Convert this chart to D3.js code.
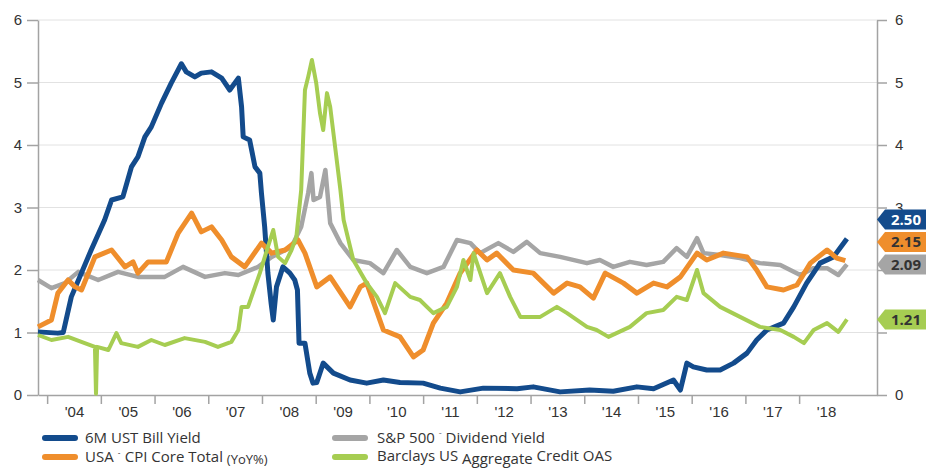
<!DOCTYPE html>
<html lang="en">
<head>
<meta charset="utf-8">
<title>Yields chart</title>
<script src="https://d3js.org/d3.v7.min.js"></script>
<style type="text/css">
body { margin: 0; background: #fff; }
svg  { display: block; font-family: "Open Sans", "Noto Sans", sans-serif; }
.axis path, .axis line { stroke: #a3a3a3; stroke-width: 1.5; }
.axis text { fill: #333; font-size: 15px; }
.grid line { stroke: #e2e2e2; stroke-width: 1; }
.legend text { fill: #333; font-size: 15px; }
</style>
</head>
<body>
<script type="text/javascript">

// series: [decimal year, value]
var billYield = [
  [2003.83,1.01],[2004.2,0.99],[2004.3,1.0],[2004.45,1.57],[2004.82,2.32],[2005.07,2.8],[2005.2,3.12],
  [2005.41,3.17],[2005.57,3.65],[2005.69,3.81],[2005.82,4.13],[2005.94,4.29],[2006.13,4.67],[2006.31,4.99],
  [2006.5,5.3],[2006.59,5.17],[2006.75,5.09],[2006.87,5.15],[2007.06,5.17],[2007.25,5.07],[2007.4,4.88],
  [2007.56,5.07],[2007.62,4.61],[2007.65,4.13],[2007.77,4.08],[2007.87,3.65],[2007.96,3.55],[2007.99,3.23],
  [2008.05,2.69],[2008.11,1.95],[2008.17,1.47],[2008.21,1.2],[2008.27,1.73],[2008.39,2.05],[2008.52,1.95],
  [2008.61,1.84],[2008.66,1.68],[2008.69,0.83],[2008.8,0.83],[2008.89,0.35],[2008.95,0.19],[2009.02,0.2],
  [2009.14,0.51],[2009.33,0.35],[2009.64,0.24],[2009.95,0.19],[2010.26,0.24],[2010.57,0.2],[2011.0,0.19],
  [2011.32,0.11],[2011.69,0.05],[2012.12,0.11],[2012.75,0.1],[2013.05,0.13],[2013.55,0.05],[2014.1,0.08],
  [2014.54,0.06],[2014.98,0.13],[2015.29,0.1],[2015.66,0.24],[2015.79,0.08],[2015.91,0.51],[2016.03,0.45],
  [2016.28,0.4],[2016.53,0.4],[2016.78,0.51],[2017.03,0.67],[2017.21,0.88],[2017.4,1.04],[2017.71,1.15],
  [2017.9,1.41],[2018.14,1.79],[2018.39,2.11],[2018.64,2.21],[2018.89,2.50]
];

var cpiCore = [
  [2003.83,1.09],[2004.08,1.2],[2004.2,1.63],[2004.39,1.84],[2004.52,1.73],[2004.64,1.68],[2004.89,2.21],
  [2005.2,2.32],[2005.45,2.05],[2005.6,2.13],[2005.69,1.95],[2005.88,2.13],[2006.22,2.13],[2006.44,2.59],
  [2006.69,2.91],[2006.87,2.61],[2007.06,2.69],[2007.25,2.48],[2007.43,2.21],[2007.68,2.05],[2007.99,2.43],
  [2008.18,2.27],[2008.43,2.32],[2008.67,2.48],[2008.8,2.27],[2009.02,1.73],[2009.27,1.89],[2009.64,1.41],
  [2009.83,1.73],[2009.95,1.79],[2010.26,1.04],[2010.57,0.93],[2010.82,0.61],[2011.0,0.72],[2011.19,1.15],
  [2011.44,1.47],[2011.69,1.95],[2012.0,2.32],[2012.19,2.16],[2012.37,2.27],[2012.68,2.0],[2013.05,1.95],
  [2013.43,1.63],[2013.68,1.79],[2013.92,1.73],[2014.17,1.55],[2014.39,1.95],[2014.73,1.79],[2014.98,1.63],
  [2015.29,1.79],[2015.54,1.73],[2015.79,1.89],[2016.1,2.27],[2016.28,2.16],[2016.59,2.27],[2017.03,2.21],
  [2017.21,2.0],[2017.4,1.73],[2017.71,1.68],[2017.96,1.76],[2018.21,2.11],[2018.52,2.32],[2018.7,2.19],
  [2018.86,2.15]
];

var dividendYield = [
  [2003.83,1.84],[2004.08,1.71],[2004.33,1.79],[2004.58,1.97],[2004.95,1.84],[2005.32,1.97],[2005.69,1.89],
  [2006.19,1.89],[2006.53,2.05],[2006.94,1.89],[2007.31,1.95],[2007.56,1.92],[2007.93,2.05],[2008.18,2.21],
  [2008.55,2.37],[2008.73,2.69],[2008.86,3.23],[2008.92,3.55],[2008.96,3.12],[2009.08,3.17],[2009.18,3.6],
  [2009.27,2.75],[2009.46,2.43],[2009.7,2.16],[2010.01,2.11],[2010.26,1.95],[2010.51,2.32],[2010.76,2.05],
  [2011.07,1.95],[2011.38,2.05],[2011.63,2.48],[2011.88,2.43],[2012.06,2.27],[2012.4,2.43],[2012.68,2.29],
  [2012.93,2.45],[2013.18,2.27],[2013.55,2.21],[2014.05,2.11],[2014.29,2.16],[2014.54,2.05],[2014.85,2.13],
  [2015.16,2.08],[2015.47,2.13],[2015.72,2.35],[2015.91,2.21],[2016.1,2.51],[2016.22,2.27],[2016.53,2.24],
  [2016.9,2.19],[2017.27,2.11],[2017.65,2.08],[2018.02,1.92],[2018.27,2.03],[2018.52,2.03],[2018.73,1.92],
  [2018.89,2.09]
];

var creditOAS = [
  [2003.83,0.96],[2004.08,0.88],[2004.39,0.93],[2004.7,0.83],[2004.89,0.77],[2004.91,0.02],[2004.93,0.77],
  [2005.14,0.72],[2005.29,0.99],[2005.38,0.83],[2005.69,0.77],[2005.94,0.88],[2006.19,0.8],[2006.56,0.91],
  [2006.94,0.85],[2007.18,0.77],[2007.43,0.85],[2007.56,1.04],[2007.62,1.41],[2007.74,1.41],[2007.87,1.73],
  [2007.96,1.95],[2008.11,2.37],[2008.21,2.64],[2008.3,2.21],[2008.43,2.11],[2008.55,2.32],[2008.64,2.53],
  [2008.73,3.28],[2008.8,4.88],[2008.86,5.09],[2008.93,5.36],[2009.01,4.99],[2009.08,4.51],[2009.14,4.24],
  [2009.21,4.83],[2009.27,4.61],[2009.46,3.28],[2009.52,2.8],[2009.61,2.48],[2009.7,2.16],[2009.95,1.79],
  [2010.14,1.57],[2010.29,1.31],[2010.48,1.79],[2010.76,1.57],[2010.94,1.52],[2011.19,1.31],[2011.44,1.41],
  [2011.63,1.73],[2011.75,2.16],[2011.88,1.84],[2011.94,2.27],[2012.19,1.63],[2012.43,1.95],[2012.62,1.57],
  [2012.81,1.25],[2013.18,1.25],[2013.49,1.41],[2013.68,1.31],[2014.05,1.09],[2014.23,1.04],[2014.45,0.93],
  [2014.85,1.09],[2015.16,1.31],[2015.47,1.36],[2015.72,1.57],[2015.91,1.52],[2016.1,2.0],[2016.22,1.63],
  [2016.53,1.41],[2016.9,1.25],[2017.27,1.09],[2017.65,1.04],[2017.9,0.93],[2018.09,0.83],[2018.27,1.04],
  [2018.52,1.15],[2018.73,1.01],[2018.89,1.21]
];

var yearTicks  = [2004,2005,2006,2007,2008,2009,2010,2011,2012,2013,2014,2015,2016,2017,2018];
var yearLabels = ["'04","'05","'06","'07","'08","'09","'10","'11","'12","'13","'14","'15","'16","'17","'18"];
var valueTicks = [0,1,2,3,4,5,6];

var series = [
  { name: "dividend", data: dividendYield, color: "#a5a5a5", width: 4.5 },
  { name: "bill",     data: billYield,     color: "#134b8c", width: 5 },
  { name: "cpi",      data: cpiCore,       color: "#ef8e2c", width: 5 },
  { name: "oas",      data: creditOAS,     color: "#a6cd52", width: 4 }
];

var W = 926, H = 469;
var plotL = 38, plotR = 877, plotT = 20, plotB = 395;

var svg = d3.select("body").append("svg")
    .attr("width", W)
    .attr("height", H);

var x = d3.scaleLinear().domain([2003.83, 2019.45]).range([plotL, plotR]);
var y = d3.scaleLinear().domain([0, 6]).range([plotB, plotT]);

// gridlines
svg.append("g").attr("class", "grid")
  .selectAll("line")
  .data(valueTicks.slice(1))
  .enter().append("line")
  .attr("x1", plotL).attr("x2", plotR)
  .attr("y1", function(d) { return y(d); })
  .attr("y2", function(d) { return y(d); });

// end value tags, stacked upward so they don't overlap
var tags = series.map(function(s) {
  var last = s.data[s.data.length - 1];
  return { value: last[1], color: s.color, textColor: s.name == "bill" ? "#fff" : "#333" };
}).sort(function(a, b) { return a.value - b.value; });

var prev = Infinity;
tags.forEach(function(t) {
  t.cy = Math.min(y(t.value), prev - 22.5);
  prev = t.cy;
});

// right-hand labels hidden where a tag sits on top of them
var coveredTick = function(v) {
  return tags.some(function(t) {
    var dy = y(v) - t.cy;
    return dy > -11 && dy < 15;
  });
};

// axes
svg.append("g").attr("class", "axis")
  .attr("transform", "translate(" + plotL + ",0)")
  .call(d3.axisLeft(y).tickValues(valueTicks).tickFormat(d3.format("d"))
        .tickSize(11).tickPadding(5).tickSizeOuter(0));

svg.append("g").attr("class", "axis")
  .attr("transform", "translate(" + plotR + ",0)")
  .call(d3.axisRight(y).tickValues(valueTicks)
        .tickFormat(function(d) { return coveredTick(d) ? "" : d; })
        .tickSize(10).tickPadding(8).tickSizeOuter(0));

svg.append("g").attr("class", "axis")
  .attr("transform", "translate(0," + plotB + ")")
  .call(d3.axisBottom(x).tickValues(yearTicks).tickFormat("").tickSize(9).tickSizeOuter(0));

svg.append("g").attr("class", "axis")
  .attr("transform", "translate(0," + plotB + ")")
  .call(d3.axisBottom(x).tickValues(yearTicks.map(function(d) { return d + 0.5; }))
        .tickFormat(function(d, i) { return yearLabels[i]; }).tickSize(0).tickPadding(11))
  .call(function(g) { g.select(".domain").remove(); });

// lines
var line = d3.line()
    .x(function(d) { return x(d[0]); })
    .y(function(d) { return y(d[1]); });

svg.selectAll(".series")
  .data(series)
  .enter().append("path")
  .attr("class", "series")
  .attr("d", function(d) { return line(d.data); })
  .attr("fill", "none")
  .attr("stroke", function(d) { return d.color; })
  .attr("stroke-width", function(d) { return d.width; })
  .attr("stroke-linejoin", "round");

var tag = svg.selectAll(".tag")
  .data(tags)
  .enter().append("g")
  .attr("class", "tag")
  .attr("transform", function(d) { return "translate(" + plotR + "," + d.cy + ")"; });

tag.append("path")
  .attr("d", "M0,0 L8,-10 L60,-10 L60,10 L8,10 Z")
  .attr("fill", function(d) { return d.color; });

tag.append("text")
  .attr("x", 14)
  .attr("dy", "0.36em")
  .attr("fill", function(d) { return d.textColor; })
  .style("font-size", "15px")
  .style("font-weight", "bold")
  .text(function(d) { return d.value.toFixed(2); });

// legend
var legend = svg.append("g").attr("class", "legend");

var legendItems = [
  { color: "#134b8c", x: 45,  y: 438 },
  { color: "#a5a5a5", x: 335, y: 438 },
  { color: "#ef8e2c", x: 45,  y: 457 },
  { color: "#a6cd52", x: 335, y: 457 }
];

legend.selectAll("line")
  .data(legendItems)
  .enter().append("line")
  .attr("x1", function(d) { return d.x; })
  .attr("x2", function(d) { return d.x + 30; })
  .attr("y1", function(d) { return d.y; })
  .attr("y2", function(d) { return d.y; })
  .attr("stroke", function(d) { return d.color; })
  .attr("stroke-width", 6)
  .attr("stroke-linecap", "round");

legend.append("text").attr("x", 85).attr("y", 443).text("6M UST Bill Yield");

var t2 = legend.append("text").attr("x", 377).attr("y", 443);
t2.append("tspan").text("S&P 500 ");
t2.append("tspan").style("font-size", "8px").attr("dy", -5).text("ˉ");
t2.append("tspan").attr("dy", 5).text(" Dividend Yield");

var t3 = legend.append("text").attr("x", 85).attr("y", 462);
t3.append("tspan").text("USA ");
t3.append("tspan").style("font-size", "8px").attr("dy", -4).text("ˆ");
t3.append("tspan").attr("dy", 4).text(" CPI Core Total ");
t3.append("tspan").style("font-size", "13px").attr("dy", 2).text("(YoY%)");

var t4 = legend.append("text").attr("x", 377).attr("y", 461);
t4.append("tspan").text("Barclays US ");
t4.append("tspan").attr("dy", 3).text("Aggregate ");
t4.append("tspan").attr("dy", -3).text("Credit OAS");

</script>
</body>
</html>
